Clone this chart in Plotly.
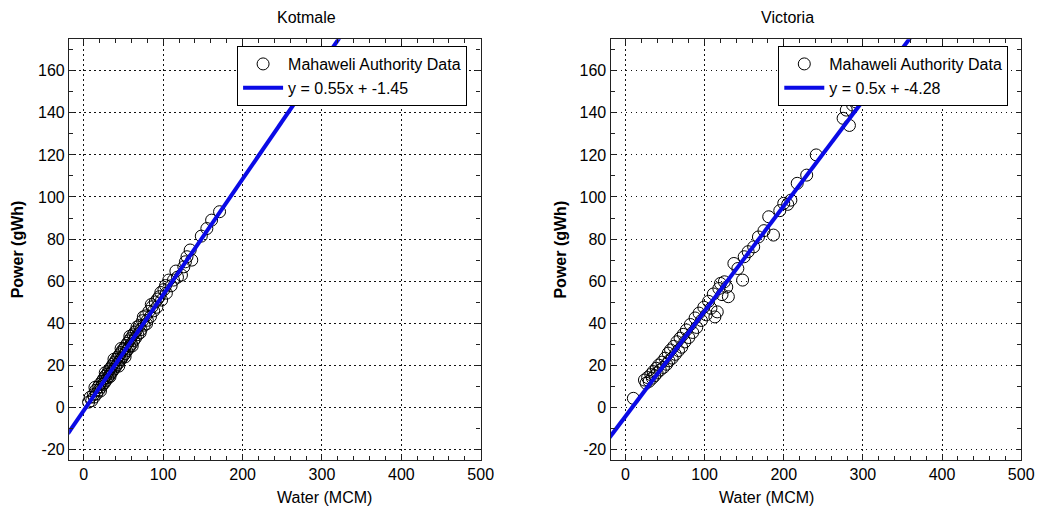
import plotly.graph_objects as go

# Kotmale reservoir: monthly water release (MCM) vs generated power (gWh)
kotmale_water = [6, 8, 10, 12, 13, 15, 16, 18, 19, 20, 22, 23, 24, 25, 26, 27, 28, 29, 30, 31,
                 32, 33, 34, 35, 36, 37, 38, 39, 40, 41, 42, 43, 44, 45, 46, 47, 48, 49, 50, 51,
                 52, 53, 54, 55, 56, 57, 58, 59, 60, 62, 63, 64, 65, 66, 68, 70, 72, 74, 76, 78,
                 80, 82, 84, 86, 88, 90, 92, 95, 98, 101, 104, 107, 110, 113, 118, 123, 126, 130,
                 134, 136, 148, 155, 161, 171,
                 14, 21, 27, 33, 38, 44, 47, 52, 58, 61, 67, 71, 75, 79, 85, 93, 97, 103, 116, 128]
kotmale_power = [2.5, 4.8, 3.2, 6.0, 4.9, 8.1, 6.4, 9.6, 8.2, 11.0, 9.8, 12.4, 10.9, 13.6, 11.7,
                 14.9, 12.8, 15.7, 14.1, 17.2, 15.0, 18.3, 16.2, 19.4, 17.1, 20.6, 18.2, 21.5, 19.3,
                 22.8, 20.4, 23.9, 21.3, 25.0, 22.6, 26.1, 23.5, 27.3, 24.7, 28.0, 25.6, 29.4, 26.9,
                 30.5, 27.8, 31.6, 29.0, 32.7, 30.1, 34.5, 31.8, 35.6, 32.9, 36.4, 34.6, 38.9, 37.0,
                 41.2, 39.1, 43.5, 41.4, 45.6, 43.2, 47.8, 45.9, 50.1, 47.6, 52.6, 51.0, 56.0, 54.3,
                 60.5, 57.8, 60.5, 61.9, 62.9, 66.8, 71.6, 74.8, 70.0, 81.4, 85.0, 89.0, 93.0,
                 9.5, 7.8, 16.5, 14.6, 22.9, 19.6, 28.0, 24.0, 33.8, 29.2, 38.2, 35.5, 43.0, 39.7,
                 48.9, 51.5, 54.6, 57.9, 64.8, 69.2]

# Victoria reservoir
victoria_water = [10, 24, 26, 28, 30, 32, 34, 35, 37, 39, 40, 42, 44, 46, 48, 50, 52, 54, 55, 57,
                  59, 61, 63, 65, 67, 69, 71, 73, 75, 77, 80, 82, 85, 88, 90, 93, 96, 99, 102, 105,
                  108, 111, 113, 116, 118, 120, 122, 125, 128, 130, 137, 142, 148, 150, 155, 162,
                  168, 175, 181, 187, 195, 200, 205, 209, 217, 229, 241, 275, 279, 283, 287, 291]
victoria_power = [4.3, 13.0, 11.5, 14.2, 12.4, 15.6, 13.9, 17.0, 15.1, 18.6, 16.4, 20.1, 17.8,
                  21.5, 19.0, 23.4, 20.5, 25.8, 22.1, 27.3, 23.4, 29.0, 25.2, 31.2, 27.0, 32.9,
                  28.6, 34.7, 31.1, 36.8, 33.2, 39.4, 35.6, 42.5, 38.0, 44.8, 41.3, 47.6, 44.0,
                  50.4, 47.1, 53.9, 43.0, 45.4, 56.5, 58.9, 53.6, 59.7, 57.2, 52.6, 68.4, 66.0,
                  60.5, 71.6, 74.0, 76.3, 81.0, 84.0, 90.6, 81.9, 93.5, 97.0, 96.5, 98.5, 106.5,
                  110.4, 120.0, 137.4, 141.3, 134.0, 143.7, 145.2]

# Linear fit coefficients (slope, intercept)
kotmale_fit = (0.55, -1.45)
victoria_fit = (0.5, -4.28)
fit_x = [-20, 500]

x_tickvals = [0, 100, 200, 300, 400, 500]
x_ticktext = ["0", "100", "200", "300", "400", "500"]
y_tickvals = [-20, 0, 20, 40, 60, 80, 100, 120, 140, 160]
y_ticktext = ["-20", "0", "20", "40", "60", "80", "100", "120", "140", "160"]

FONT = "Liberation Sans, Arial, sans-serif"
BLUE = "#0a0ae6"

fig = go.Figure()

panels = [
    ("Kotmale", kotmale_water, kotmale_power, kotmale_fit, "x", "y", "legend"),
    ("Victoria", victoria_water, victoria_power, victoria_fit, "x2", "y2", "legend2"),
]

for name, wx, py, (m, c), xa, ya, lg in panels:
    fig.add_trace(go.Scatter(
        x=wx, y=py, mode="markers", name="Mahaweli Authority Data",
        marker=dict(symbol="circle-open", size=12, color="black", line=dict(width=1)),
        xaxis=xa, yaxis=ya, legend=lg,
    ))
    fig.add_trace(go.Scatter(
        x=fit_x, y=[m * v + c for v in fit_x], mode="lines",
        name=f"y = {m:g}x + {c:g}",
        line=dict(color=BLUE, width=4),
        xaxis=xa, yaxis=ya, legend=lg,
    ))

axis_common = dict(
    showline=True, linecolor="#222", linewidth=1.4, mirror="allticks",
    ticks="inside", ticklen=5, tickwidth=1, tickcolor="#222",
    showgrid=True, gridcolor="#111", gridwidth=1.3, griddash="1.5px,3.5px",
    zeroline=False, tickfont=dict(family=FONT, size=16, color="black"),
)
x_common = dict(axis_common, tickvals=x_tickvals, ticktext=x_ticktext,
                minor=dict(dtick=20, tick0=0, ticks="inside", ticklen=4, tickcolor="#222", showgrid=False))
y_common = dict(axis_common, tickvals=y_tickvals, ticktext=y_ticktext, range=[-25, 175],
                minor=dict(dtick=10, tick0=0, ticks="inside", ticklen=4, tickcolor="#222", showgrid=False))

legend_common = dict(y=0.9096, xanchor="left", yanchor="top", bgcolor="white",
                     bordercolor="black", borderwidth=1, itemwidth=40,
                     font=dict(family=FONT, size=16, color="black"), tracegroupgap=0)

y_dom = [0.0963, 0.923]
fig.update_layout(
    width=1051, height=509,
    margin=dict(l=0, r=0, t=0, b=0),
    paper_bgcolor="white", plot_bgcolor="white",
    font=dict(family=FONT, size=16, color="black"),
    xaxis=dict(x_common, domain=[0.0666, 0.4631], range=[-18.5, 500], anchor="y"),
    yaxis=dict(y_common, domain=y_dom, anchor="x"),
    xaxis2=dict(x_common, domain=[0.5883, 0.9838], range=[-18.7, 500], anchor="y2"),
    yaxis2=dict(y_common, domain=y_dom, anchor="x2"),
    legend=dict(legend_common, x=0.2284),
    legend2=dict(legend_common, x=0.7498),
    showlegend=True,
)

annotations = []
for title, cx, ylab_x in [("Kotmale", 0.2648, 0.0171), ("Victoria", 0.786, 0.5404)]:
    annotations.append(dict(text=title, x=cx, y=0.9666, xref="paper", yref="paper",
                            showarrow=False, font=dict(family=FONT, size=16), yanchor="middle"))
    annotations.append(dict(text="Water (MCM)", x=cx, y=0.022, xref="paper", yref="paper",
                            showarrow=False, font=dict(family=FONT, size=16), yanchor="middle"))
    annotations.append(dict(text="<b>Power (gWh)</b>", x=ylab_x, y=0.5096, xref="paper", yref="paper",
                            showarrow=False, textangle=-90, font=dict(family=FONT, size=16),
                            xanchor="center", yanchor="middle"))
fig.update_layout(annotations=annotations)

fig.write_html("out.html")
